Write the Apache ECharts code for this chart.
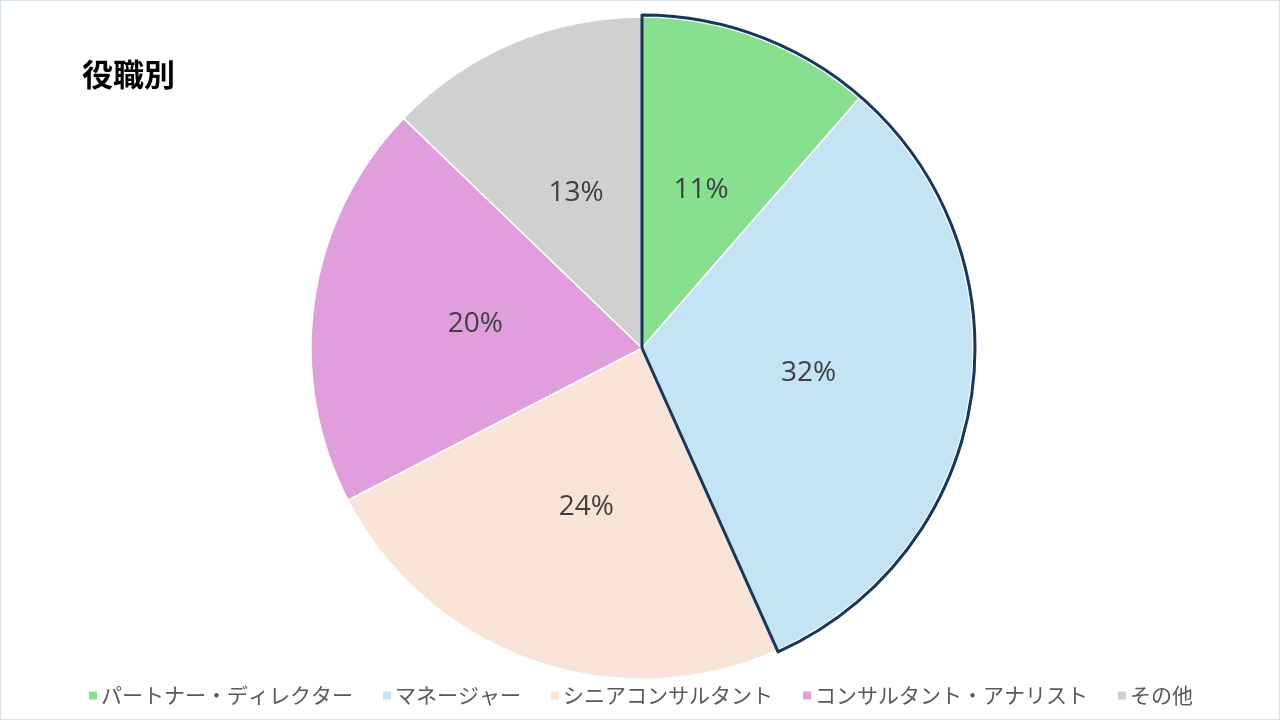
<!DOCTYPE html>
<html><head><meta charset="utf-8">
<script src="https://cdn.jsdelivr.net/npm/echarts@6/dist/echarts.min.js"></script>
<style>
html,body{margin:0;padding:0;background:#fff;}
#c{width:1280px;height:720px;box-sizing:border-box;border:1px solid #d5e3ef;}
</style></head>
<body><div id="c"></div>
<script>
const titleText = '役職別';
const categories = ['パートナー・ディレクター','マネージャー','シニアコンサルタント','コンサルタント・アナリスト','その他'];
const values = [11.4, 31.9, 24.1, 19.8, 12.8];
const colors = ['#86e08e','#c2e4f4','#fae3d7','#e19edc','#d0d0d0'];
const highlighted = [0, 1];

const hiSum = highlighted.reduce((s,i)=>s+values[i],0);
const restSum = values.reduce((s,v)=>s+v,0) - hiSum;

const chart = echarts.init(document.getElementById('c'));
const font = '"Noto Sans CJK JP","Noto Sans",sans-serif';
chart.setOption({
  animation:false,
  color: colors,
  title:{text:titleText,left:76,top:53,textStyle:{fontFamily:font,fontSize:31,fontWeight:'bold',color:'#000'}},
  legend:{bottom:8,left:'center',itemWidth:10,itemHeight:10,itemGap:28,icon:'rect',
    textStyle:{fontFamily:font,fontSize:21,color:'#595959',padding:[0,0,0,-2]},data:categories},
  series:[{
    type:'pie',center:[641,347],radius:[0,331],startAngle:90,clockwise:true,
    itemStyle:{borderColor:'#fff',borderWidth:1.5},
    label:{position:'inside',formatter:p=>Math.round(p.percent)+'%',fontFamily:'"Open Sans","Noto Sans",sans-serif',fontSize:28,color:'#404040'},
    labelLine:{show:false},
    emphasis:{disabled:true},
    data:categories.map((n,i)=>({name:n,value:values[i]}))
  },{
    type:'pie',center:[641,347],radius:[0,333],startAngle:90,clockwise:true,silent:true,
    label:{show:false},labelLine:{show:false},legendHoverLink:false,
    data:[
      {name:'_hi',value:hiSum,itemStyle:{color:'rgba(0,0,0,0)',borderColor:'#17375e',borderWidth:3}},
      {name:'_rest',value:restSum,itemStyle:{color:'rgba(0,0,0,0)',borderWidth:0}}
    ]
  }]
});
</script></body></html>
